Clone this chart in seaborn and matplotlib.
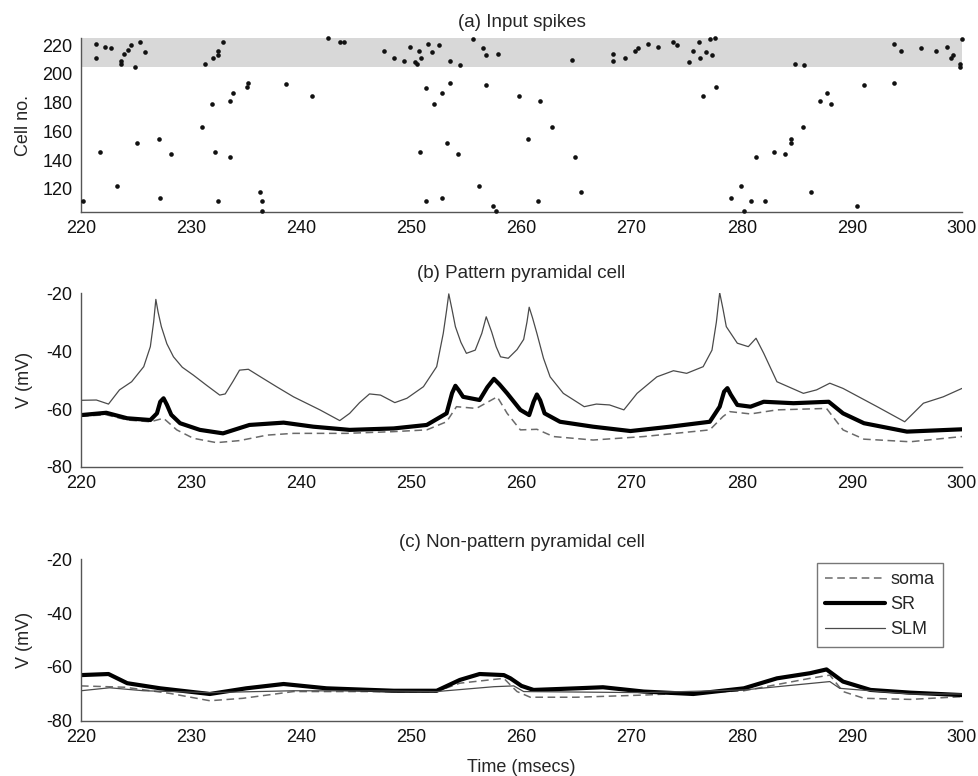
import numpy as np
import pandas as pd
import matplotlib
matplotlib.use("Agg")
import matplotlib.pyplot as plt
import seaborn as sns

# ---- input spike raster: (time in ms, cell index) ----
spike_times = [
    220.2, 221.4, 221.4, 222.2, 222.7, 221.7, 223.3, 223.6, 223.6, 223.9,
    224.3, 224.5, 224.9, 225.1, 225.4, 225.8, 227.1, 227.2, 228.2, 231.0,
    231.3, 231.9, 232.0, 232.2, 232.4, 232.4, 232.4, 232.9, 233.5, 233.5,
    233.8, 235.1, 235.2, 236.3, 236.4, 236.4, 238.6, 241.0, 242.4, 243.5,
    243.9, 247.5, 248.4, 249.3, 249.9, 250.7, 251.5, 251.9, 252.5, 250.9,
    250.3, 250.5, 251.3, 252.8, 253.5, 252.1, 253.5, 254.4, 255.6, 256.5,
    256.8, 257.9, 256.8, 250.8, 253.2, 254.2, 256.1, 251.3, 252.8, 257.4,
    257.7, 259.8, 261.7, 262.8, 260.6, 261.5, 264.9, 265.4, 264.6, 268.3,
    268.3, 269.4, 270.3, 270.6, 271.5, 272.4, 273.8, 274.1, 276.1, 275.6,
    275.2, 276.2, 276.8, 277.1, 277.6, 277.3, 276.5, 277.7, 284.8, 285.7,
    287.7, 287.1, 288.1, 285.6, 284.5, 284.5, 282.9, 283.9, 281.3, 279.9,
    279.0, 280.8, 282.1, 280.2, 286.3, 290.5, 291.1, 293.8, 293.8, 294.5,
    296.3, 297.6, 298.6, 299.0, 299.2, 299.8, 299.8, 300.0,
]
spike_cells = [
    112, 221, 211, 219, 218, 146, 122, 209, 207, 214,
    217, 220, 205, 152, 222, 215, 155, 114, 144, 163,
    207, 179, 211, 146, 213, 216, 112, 222, 181, 142,
    187, 191, 194, 118, 112, 105, 193, 185, 225, 222,
    222, 216, 211, 209, 219, 216, 221, 215, 220, 211,
    208, 207, 190, 187, 194, 179, 209, 206, 224, 218,
    213, 214, 192, 146, 152, 144, 122, 112, 114, 108,
    105, 185, 181, 163, 155, 112, 142, 118, 210, 214,
    209, 211, 216, 218, 221, 219, 222, 220, 222, 216,
    208, 211, 215, 224, 225, 213, 185, 191, 207, 206,
    187, 181, 179, 163, 155, 152, 146, 144, 142, 122,
    114, 112, 112, 105, 118, 108, 192, 194, 221, 216,
    218, 216, 219, 211, 213, 207, 205, 224,
]

# ---- (b) pattern pyramidal cell ----
b_slm_t = [220.0, 221.4, 222.5, 223.5, 224.6, 225.7, 226.3, 226.6, 226.8, 227.0,
           227.3, 227.8, 228.4, 229.2, 230.2, 231.4, 232.6, 233.1, 233.8, 234.4,
           235.2, 236.3, 237.8, 239.3, 241.7, 243.5, 244.4, 245.3, 246.2, 247.2,
           248.5, 249.6, 251.1, 252.3, 252.9, 253.2, 253.4, 253.7, 254.0, 254.5,
           255.0, 255.8, 256.4, 256.8, 257.3, 257.7, 258.1, 258.8, 259.6, 260.2,
           260.5, 260.7, 261.0, 261.4, 262.0, 262.6, 263.8, 265.7, 266.8, 268.0,
           269.3, 270.5, 272.3, 273.8, 275.0, 276.5, 277.3, 277.7, 278.0, 278.3,
           278.6, 279.6, 280.6, 281.3, 282.0, 283.2, 285.6, 286.8, 288.0, 289.2,
           292.3, 294.8, 296.5, 298.3, 300.0]
b_slm_v = [-57.0, -56.9, -58.3, -53.4, -50.6, -45.4, -38.5, -30.0, -22.2, -26.5,
           -31.6, -37.5, -42.0, -45.6, -48.3, -51.8, -55.2, -54.8, -50.5, -46.6,
           -46.3, -48.9, -52.4, -55.8, -60.3, -64.0, -61.5, -57.8, -54.8, -55.2,
           -57.8, -56.3, -52.3, -45.4, -33.9, -26.0, -20.3, -25.8, -31.6, -37.0,
           -40.8, -39.7, -33.9, -28.2, -33.5, -38.5, -42.0, -42.5, -39.5, -36.0,
           -30.0, -24.9, -28.5, -33.9, -42.5, -48.9, -54.6, -59.2, -58.3, -58.6,
           -60.3, -54.6, -48.9, -46.8, -47.7, -45.4, -39.7, -30.0, -19.9, -25.5,
           -31.6, -37.3, -38.5, -35.6, -40.8, -50.6, -54.6, -53.4, -51.1, -52.9,
           -59.2, -64.4, -58.0, -55.8, -52.9]

b_sr_t = [220.0, 222.3, 224.2, 226.3, 226.9, 227.2, 227.5, 227.8, 228.2, 229.0,
          230.8, 232.9, 235.3, 238.4, 241.1, 244.4, 248.4, 251.4, 253.2, 253.7,
          254.0, 254.3, 254.7, 256.2, 256.9, 257.5, 258.0, 258.7, 259.9, 260.7,
          261.1, 261.4, 261.7, 262.1, 263.5, 266.5, 269.9, 273.5, 277.1, 278.0,
          278.4, 278.7, 279.0, 279.6, 280.8, 282.0, 284.7, 287.9, 289.2, 291.1,
          295.0, 300.0]
b_sr_v = [-62.1, -61.3, -63.2, -63.8, -61.5, -57.5, -56.3, -58.5, -62.0, -64.9,
          -67.2, -68.4, -65.5, -64.7, -66.1, -67.2, -66.7, -65.5, -61.5, -54.5,
          -52.0, -53.5, -55.8, -56.9, -52.5, -49.6, -51.5, -54.6, -60.3, -62.1,
          -57.5, -55.0, -57.0, -61.5, -64.4, -66.1, -67.6, -66.1, -64.4, -59.2,
          -54.0, -52.8, -55.0, -58.6, -59.2, -57.5, -58.0, -57.5, -61.5, -64.9,
          -67.8, -67.0]

b_soma_t = [220.0, 222.3, 224.2, 226.3, 227.5, 228.7, 230.2, 232.3, 234.4, 236.9,
            239.3, 244.1, 248.4, 251.4, 253.2, 254.1, 255.9, 257.8, 258.7, 259.9,
            261.4, 262.9, 266.5, 271.1, 277.1, 278.3, 278.9, 280.8, 283.2, 287.7,
            289.2, 291.1, 295.3, 300.0]
b_soma_v = [-62.5, -62.0, -63.8, -64.4, -63.2, -67.2, -70.1, -71.6, -70.9, -69.0,
            -68.4, -68.4, -67.8, -67.2, -64.4, -59.2, -59.8, -55.8, -61.5, -67.2,
            -67.0, -69.5, -70.7, -69.5, -67.2, -62.6, -60.9, -61.7, -60.3, -59.8,
            -67.2, -70.4, -71.3, -69.5]

# ---- (c) non-pattern pyramidal cell ----
c_sr_t = [220.0, 222.5, 224.2, 227.2, 231.7, 235.0, 238.4, 242.3, 248.4, 252.3,
          254.4, 256.2, 258.4, 259.0, 260.0, 261.1, 265.0, 267.4, 271.1, 275.6,
          280.2, 283.2, 286.2, 287.7, 289.2, 291.7, 295.3, 300.0]
c_sr_v = [-63.0, -62.6, -66.0, -67.9, -70.0, -67.9, -66.3, -67.9, -68.8, -68.8,
          -64.8, -62.6, -63.0, -64.2, -67.0, -68.5, -67.9, -67.5, -69.1, -70.0,
          -67.9, -64.2, -62.3, -60.9, -65.4, -68.5, -69.5, -70.4]

c_slm_t = [220.0, 222.6, 225.7, 231.7, 239.3, 248.4, 252.3, 257.5, 259.3, 260.2,
           271.1, 280.2, 288.0, 288.9, 295.3, 300.0]
c_slm_v = [-68.8, -67.7, -68.8, -69.5, -68.8, -68.9, -69.1, -67.3, -67.0, -69.1,
           -69.5, -68.5, -65.4, -67.9, -70.0, -70.0]

c_soma_t = [220.0, 224.0, 228.1, 231.7, 234.7, 239.3, 248.4, 252.3, 254.4, 258.4,
            259.0, 259.6, 260.8, 265.0, 271.1, 280.2, 286.2, 288.0, 289.2, 291.1,
            295.3, 300.0]
c_soma_v = [-67.0, -67.5, -69.8, -72.5, -71.6, -69.1, -69.1, -69.1, -66.0, -64.2,
            -66.7, -69.1, -71.2, -71.2, -70.4, -68.8, -64.2, -63.0, -69.1, -71.6,
            -72.0, -71.0]

x_ticks = [220, 230, 240, 250, 260, 270, 280, 290, 300]
cell_ticks = [120, 140, 160, 180, 200, 220]
v_ticks = [-80, -60, -40, -20]

sns.set_style("white")
plt.rcParams["font.family"] = ["Liberation Sans", "DejaVu Sans"]
plt.rcParams["axes.unicode_minus"] = False

AX_COL = "#555555"
TICK_FS = 13
TITLE_FS = 13.5
fig = plt.figure(figsize=(9.79, 7.76), dpi=100)

left, width = 0.0827, 0.8999
ax_a = fig.add_axes([left, 0.7268, width, 0.2242])
ax_b = fig.add_axes([left, 0.3982, width, 0.2242])
ax_c = fig.add_axes([left, 0.0709, width, 0.2087])


def style_axis(ax, yticks, ylim):
    ax.set_xlim(220, 300)
    ax.set_ylim(*ylim)
    ax.set_xticks(x_ticks)
    ax.set_yticks(yticks)
    for side in ("top", "right"):
        ax.spines[side].set_visible(False)
    for side in ("left", "bottom"):
        ax.spines[side].set_color(AX_COL)
        ax.spines[side].set_linewidth(1.0)
    ax.tick_params(direction="in", length=6, width=1.0, color=AX_COL,
                   labelsize=TICK_FS, labelcolor="#111111", pad=6)
    ax.set_xlabel("")
    ax.set_ylabel("")


# (a) raster
spikes = pd.DataFrame({"t": spike_times, "cell": spike_cells})
ax_a.axhspan(205, 225, color="#d8d8d8", lw=0, zorder=0)
sns.scatterplot(data=spikes, x="t", y="cell", ax=ax_a, color="#111111",
                marker="o", s=11, linewidth=0, zorder=3)
ax_a.collections[-1].set_clip_on(False)
style_axis(ax_a, cell_ticks, (104, 225))
ax_a.set_ylabel("Cell no.", fontsize=TICK_FS)
ax_a.yaxis.set_label_coords(-0.056, 0.5)
ax_a.set_title("(a) Input spikes", fontsize=TITLE_FS, pad=8)


def draw_traces(ax, soma, sr, slm, with_labels):
    sns.lineplot(x=soma[0], y=soma[1], ax=ax, color="#6a6a6a", lw=1.1,
                 linestyle=(0, (5, 3)), estimator=None, sort=False,
                 label="soma" if with_labels else None)
    sns.lineplot(x=sr[0], y=sr[1], ax=ax, color="black", lw=3.0,
                 estimator=None, sort=False,
                 label="SR" if with_labels else None)
    sns.lineplot(x=slm[0], y=slm[1], ax=ax, color="#4a4a4a", lw=0.9,
                 estimator=None, sort=False,
                 label="SLM" if with_labels else None)


draw_traces(ax_b, (b_soma_t, b_soma_v), (b_sr_t, b_sr_v), (b_slm_t, b_slm_v), False)
style_axis(ax_b, v_ticks, (-80, -20))
ax_b.set_ylabel("V (mV)", fontsize=TICK_FS)
ax_b.yaxis.set_label_coords(-0.054, 0.5)
ax_b.set_title("(b) Pattern pyramidal cell", fontsize=TITLE_FS, pad=11)

draw_traces(ax_c, (c_soma_t, c_soma_v), (c_sr_t, c_sr_v), (c_slm_t, c_slm_v), True)
style_axis(ax_c, v_ticks, (-80, -20))
ax_c.set_ylabel("V (mV)", fontsize=TICK_FS)
ax_c.yaxis.set_label_coords(-0.054, 0.5)
ax_c.set_xlabel("Time (msecs)", fontsize=TICK_FS, labelpad=9)
ax_c.set_title("(c) Non-pattern pyramidal cell", fontsize=TITLE_FS, pad=9)

leg = ax_c.legend(loc="upper right", bbox_to_anchor=(0.978, 0.975),
                  fontsize=TICK_FS, frameon=True, fancybox=False,
                  handlelength=3.3, handletextpad=0.3, borderpad=0.45,
                  labelspacing=0.45, borderaxespad=0.0)
leg.get_frame().set_edgecolor("#555555")
leg.get_frame().set_linewidth(1.0)

fig.savefig("out.png", dpi=100)
